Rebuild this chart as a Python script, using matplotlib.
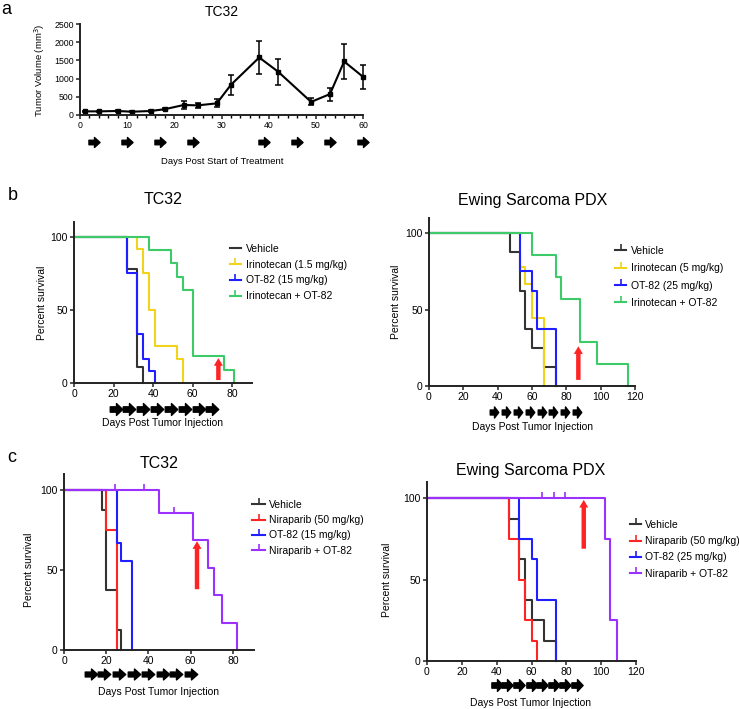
import numpy as np
import matplotlib
matplotlib.use('Agg')
import matplotlib.pyplot as plt
from matplotlib.path import Path
from matplotlib.lines import Line2D
import matplotlib.transforms as mtransforms

plt.rcParams['font.family'] = ['Liberation Sans', 'DejaVu Sans']

W, H = 739, 709

# ---- panel a: tumor volume ----
a_days = [1, 4, 8, 11, 15, 18, 22, 25, 29, 32, 38, 42, 49, 53, 56, 60]
a_vol = [100, 100, 110, 90, 110, 160, 275, 265, 320, 830, 1580, 1190, 360, 575, 1470, 1050]
a_err = [15, 15, 15, 15, 15, 30, 105, 75, 110, 270, 465, 355, 95, 180, 485, 335]
a_doses = [3, 10, 17, 24, 39, 46, 53, 60]

# ---- panel b left: TC32 irinotecan ----
b1_veh_t = [0, 27, 32, 35]
b1_veh_s = [100, 77.8, 11.1, 0]
b1_iri_t = [0, 32, 35, 38, 41, 52, 55]
b1_iri_s = [100, 91.7, 75, 50, 25, 16.7, 0]
b1_ot_t = [0, 27, 32, 35, 38, 41]
b1_ot_s = [100, 75, 33.3, 16.7, 8.3, 0]
b1_comb_t = [0, 38, 49, 52, 55, 60, 76, 81]
b1_comb_s = [100, 90.9, 81.8, 72.7, 63.6, 18.2, 9.1, 0]
b1_doses = [21, 28, 35, 42, 49, 56, 63, 70]
b1_labels = ['Vehicle', 'Irinotecan (1.5 mg/kg)', 'OT-82 (15 mg/kg)', 'Irinotecan + OT-82']

# ---- panel b right: Ewing PDX irinotecan ----
b2_veh_t = [0, 47, 53, 56, 60, 67, 74]
b2_veh_s = [100, 87.5, 62.5, 37.5, 25, 12.5, 0]
b2_iri_t = [0, 53, 56, 60, 67]
b2_iri_s = [100, 77.8, 66.7, 44.4, 0]
b2_ot_t = [0, 53, 60, 63, 74]
b2_ot_s = [100, 75, 62.5, 37.5, 0]
b2_comb_t = [0, 60, 74, 77, 88, 98, 116]
b2_comb_s = [100, 85.7, 71.4, 57.1, 28.6, 14.3, 0]
b2_doses = [38, 45, 52, 59, 66, 72, 79, 86]
b2_labels = ['Vehicle', 'Irinotecan (5 mg/kg)', 'OT-82 (25 mg/kg)', 'Irinotecan + OT-82']

# ---- panel c left: TC32 niraparib ----
c1_veh_t = [0, 18, 20, 25, 27]
c1_veh_s = [100, 87.5, 37.5, 12.5, 0]
c1_nir_t = [0, 20, 25]
c1_nir_s = [100, 75, 0]
c1_ot_t = [0, 25, 27, 32]
c1_ot_s = [100, 66.7, 55.6, 0]
c1_comb_t = [0, 45, 61, 68, 71, 75, 82]
c1_comb_s = [100, 85.7, 68.6, 51.4, 34.3, 17.1, 0]
c1_cens_t = [24, 38, 52]
c1_cens_s = [100, 100, 85.7]
c1_doses = [13, 19, 26, 33, 40, 47, 53, 60]
c1_labels = ['Vehicle', 'Niraparib (50 mg/kg)', 'OT-82 (15 mg/kg)', 'Niraparib + OT-82']

# ---- panel c right: Ewing PDX niraparib ----
c2_veh_t = [0, 47, 53, 56, 60, 67, 74]
c2_veh_s = [100, 87.5, 62.5, 37.5, 25, 12.5, 0]
c2_nir_t = [0, 47, 53, 56, 60, 63]
c2_nir_s = [100, 75, 50, 25, 12.5, 0]
c2_ot_t = [0, 53, 60, 63, 74]
c2_ot_s = [100, 75, 62.5, 37.5, 0]
c2_comb_t = [0, 102, 105, 109]
c2_comb_s = [100, 75, 25, 0]
c2_cens_t = [66, 73, 79]
c2_cens_s = [100, 100, 100]
c2_doses = [40, 46, 53, 60, 66, 73, 79, 86]
c2_labels = ['Vehicle', 'Niraparib (50 mg/kg)', 'OT-82 (25 mg/kg)', 'Niraparib + OT-82']

BLACK = '#333333'
YELLOW = '#F2D31B'
BLUE = '#1F1FFF'
GREEN = '#3CCB68'
RED = '#FF2424'
PURPLE = '#9B30FF'


def fx(px):
    return px / W


def fy(py):
    return 1 - py / H


def make_axes(fig, left, right, top, bottom):
    return fig.add_axes([fx(left), fy(bottom), fx(right) - fx(left), (bottom - top) / H])


def arrow_marker(ratio):
    # block arrow pointing right, ratio = height / width
    h = ratio / 2
    verts = [(-0.5, -0.45 * h), (0.0, -0.45 * h), (0.0, -h), (0.5, 0), (0.0, h),
             (0.0, 0.45 * h), (-0.5, 0.45 * h), (-0.5, -0.45 * h)]
    codes = [Path.MOVETO] + [Path.LINETO] * 6 + [Path.CLOSEPOLY]
    return Path(verts, codes)


def dose_arrows(fig, ax, days, py, ratio, size):
    tr = mtransforms.blended_transform_factory(ax.transData, fig.transFigure)
    ax.plot(days, [fy(py)] * len(days), ls='none', marker=arrow_marker(ratio),
            markersize=size, color='black', transform=tr, clip_on=False)


def style_axes(ax, fs):
    for s in ['top', 'right']:
        ax.spines[s].set_visible(False)
    for s in ['left', 'bottom']:
        ax.spines[s].set_linewidth(1.4)
        ax.spines[s].set_color('#222222')
    ax.tick_params(direction='out', length=3, width=1.1, labelsize=fs, pad=1.5,
                   color='#222222')


def red_arrow(ax, x, y0, y1):
    ax.annotate('', xy=(x, y1), xytext=(x, y0),
                arrowprops=dict(arrowstyle='simple,head_length=0.55,head_width=0.65,tail_width=0.32',
                                color=RED, lw=0, shrinkA=0, shrinkB=0),
                annotation_clip=False)


def survival(ax, series, colors, labels, legend_tick, lx, ly, hl, hp, spacing):
    for (t, s), c in zip(series, colors):
        ax.step(t, s, where='post', color=c, lw=1.5, clip_on=False)
    handles = []
    for c, lab, tk in zip(colors, labels, legend_tick):
        handles.append(Line2D([], [], color=c, lw=1.5, marker=2 if tk else None,
                              markersize=4, markeredgewidth=1.2, label=lab))
    ax.legend(handles=handles, loc='upper left', bbox_to_anchor=(fx(lx), fy(ly)),
              bbox_transform=ax.figure.transFigure, frameon=False, fontsize=7.5,
              handlelength=hl, handletextpad=hp, labelspacing=spacing,
              borderpad=0, borderaxespad=0, numpoints=1)
    ax.set_ylim(0, 110)
    ax.set_yticks([0, 50, 100])
    style_axes(ax, 7.5)


fig = plt.figure(figsize=(W / 100, H / 100), dpi=100)

# ---------------- panel a ----------------
ax = make_axes(fig, 80, 363, 24, 115)
ax.errorbar(a_days, a_vol, yerr=a_err, color='black', lw=1.5, marker='s', markersize=2.5,
            elinewidth=1.1, capsize=2.2, capthick=1.1, clip_on=False)
ax.set_xlim(0, 60)
ax.set_ylim(0, 2500)
ax.set_xticks(range(0, 61, 10))
ax.set_xticks(range(0, 61, 2), minor=True)
ax.set_yticks(range(0, 2501, 500))
style_axes(ax, 6.3)
ax.tick_params(which='minor', length=2.5, width=1.0)
dose_arrows(fig, ax, a_doses, 142, 0.9, 8)
fig.text(fx(222), fy(12), 'TC32', ha='center', va='center', fontsize=10)
fig.text(fx(222), fy(162), 'Days Post Start of Treatment', ha='center', va='center', fontsize=6.8)
fig.text(fx(40), fy(70), 'Tumor Volume (mm$^3$)', rotation=90, ha='center', va='center', fontsize=6.8)
fig.text(fx(6), fy(9), 'a', ha='center', va='center', fontsize=13)

# ---------------- panel b left ----------------
ax = make_axes(fig, 74, 252, 222, 383)
survival(ax, [(b1_veh_t, b1_veh_s), (b1_iri_t, b1_iri_s), (b1_ot_t, b1_ot_s), (b1_comb_t, b1_comb_s)],
         [BLACK, YELLOW, BLUE, GREEN], b1_labels, [False, True, True, True],
         230, 244, 1.05, 0.5, 0.55)
ax.set_xlim(0, 90)
ax.set_xticks(range(0, 81, 20))
red_arrow(ax, 73, 2, 17)
dose_arrows(fig, ax, b1_doses, 409, 0.95, 9)
fig.text(fx(163), fy(199), 'TC32', ha='center', va='center', fontsize=11.5)
fig.text(fx(163), fy(423), 'Days Post Tumor Injection', ha='center', va='center', fontsize=7.5)
fig.text(fx(42), fy(303), 'Percent survival', rotation=90, ha='center', va='center', fontsize=7.5)
fig.text(fx(13), fy(196), 'b', ha='center', va='center', fontsize=13)

# ---------------- panel b right ----------------
ax = make_axes(fig, 429, 635, 218, 386)
survival(ax, [(b2_veh_t, b2_veh_s), (b2_iri_t, b2_iri_s), (b2_ot_t, b2_ot_s), (b2_comb_t, b2_comb_s)],
         [BLACK, YELLOW, BLUE, GREEN], b2_labels, [True, True, True, True],
         615, 246, 1.1, 0.45, 0.7)
ax.set_xlim(0, 120)
ax.set_xticks(range(0, 121, 20))
red_arrow(ax, 87, 4, 26)
dose_arrows(fig, ax, b2_doses, 412, 1.3, 8)
fig.text(fx(533), fy(200), 'Ewing Sarcoma PDX', ha='center', va='center', fontsize=11.5)
fig.text(fx(533), fy(427), 'Days Post Tumor Injection', ha='center', va='center', fontsize=7.5)
fig.text(fx(396), fy(302), 'Percent survival', rotation=90, ha='center', va='center', fontsize=7.5)

# ---------------- panel c left ----------------
ax = make_axes(fig, 64, 254, 474, 650)
survival(ax, [(c1_veh_t, c1_veh_s), (c1_nir_t, c1_nir_s), (c1_ot_t, c1_ot_s), (c1_comb_t, c1_comb_s)],
         [BLACK, RED, BLUE, PURPLE], c1_labels, [True, True, True, True],
         252, 500, 1.25, 0.4, 0.5)
ax.plot(c1_cens_t, c1_cens_s, ls='none', marker=2, markersize=4, markeredgewidth=1.2,
        color=PURPLE, clip_on=False)
ax.set_xlim(0, 90)
ax.set_xticks(range(0, 81, 20))
red_arrow(ax, 63, 38, 68)
dose_arrows(fig, ax, c1_doses, 674, 0.87, 9)
fig.text(fx(159), fy(463), 'TC32', ha='center', va='center', fontsize=11.5)
fig.text(fx(159), fy(692), 'Days Post Tumor Injection', ha='center', va='center', fontsize=7.5)
fig.text(fx(29), fy(570), 'Percent survival', rotation=90, ha='center', va='center', fontsize=7.5)
fig.text(fx(12), fy(458), 'c', ha='center', va='center', fontsize=13)

# ---------------- panel c right ----------------
ax = make_axes(fig, 427, 636, 482, 661)
survival(ax, [(c2_veh_t, c2_veh_s), (c2_nir_t, c2_nir_s), (c2_ot_t, c2_ot_s), (c2_comb_t, c2_comb_s)],
         [BLACK, RED, BLUE, PURPLE], c2_labels, [True, True, True, True],
         630, 520, 1.1, 0.35, 0.6)
ax.plot(c2_cens_t, c2_cens_s, ls='none', marker=2, markersize=4, markeredgewidth=1.2,
        color=PURPLE, clip_on=False)
ax.set_xlim(0, 120)
ax.set_xticks(range(0, 121, 20))
red_arrow(ax, 90, 69, 99)
dose_arrows(fig, ax, c2_doses, 685, 1.05, 8.5)
fig.text(fx(531), fy(471), 'Ewing Sarcoma PDX', ha='center', va='center', fontsize=11.5)
fig.text(fx(531), fy(703), 'Days Post Tumor Injection', ha='center', va='center', fontsize=7.5)
fig.text(fx(387), fy(580), 'Percent survival', rotation=90, ha='center', va='center', fontsize=7.5)

fig.savefig('out.png', dpi=100)
